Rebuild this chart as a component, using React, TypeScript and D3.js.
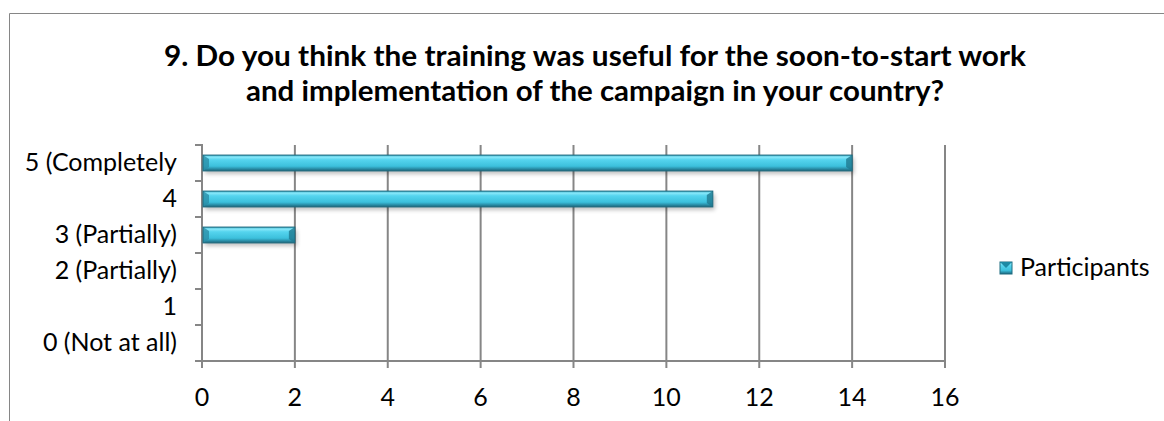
import React from "react";
import * as d3 from "d3";

const categories = ["5 (Completely", "4", "3 (Partially)", "2 (Partially)", "1", "0 (Not at all)"];
const participants = [14, 11, 2, 0, 0, 0];
const xTicks = [0, 2, 4, 6, 8, 10, 12, 14, 16];
const titleLines = [
  "9. Do you think the training was useful for the soon-to-start work",
  "and implementation of the campaign in your country?",
];
const seriesName = "Participants";

const W = 1164;
const H = 421;
const FONT = "Lato, 'Open Sans', sans-serif";

export default function App() {
  const x = d3.scaleLinear().domain([0, 16]).range([202, 945]);
  const y = d3.scaleBand<string>().domain(categories).range([145, 361]).paddingInner(0.56).paddingOuter(0.28);
  const band = d3.scaleBand<string>().domain(categories).range([145, 361]);
  const bh = y.bandwidth();

  return (
    <svg
      width={W}
      height={H}
      style={{ position: "absolute", left: 0, top: 0, background: "#fff" }}
      fontFamily={FONT}
    >
      <defs>
        <linearGradient id="barGrad" x1="0" y1="0" x2="0" y2="1">
          <stop offset="0" stopColor="#2aa3c0" />
          <stop offset="0.12" stopColor="#8ae9fa" />
          <stop offset="0.3" stopColor="#55d4ee" />
          <stop offset="0.7" stopColor="#3cc0dc" />
          <stop offset="0.85" stopColor="#2b93ad" />
          <stop offset="1" stopColor="#1b6378" />
        </linearGradient>
        <filter id="shadow" x="-5%" y="-50%" width="110%" height="250%">
          <feGaussianBlur stdDeviation="2" />
        </filter>
      </defs>
      <path d={`M9.5,${H} V13.5 H${W}`} fill="none" stroke="#868686" strokeWidth={1} />

      {titleLines.map((t, i) => (
        <text
          key={i}
          x={595}
          y={66 + i * 35}
          textAnchor="middle"
          fontSize={28}
          fontWeight="bold"
          fill="#000"
          textLength={i === 0 ? 862 : 698}
          lengthAdjust="spacingAndGlyphs"
        >
          {t}
        </text>
      ))}

      {xTicks.slice(1).map((t) => (
        <line key={t} x1={x(t)} x2={x(t)} y1={145} y2={368} stroke="#868686" strokeWidth={2} />
      ))}
      <line x1={x(0) - 1} x2={x(16)} y1={361} y2={361} stroke="#868686" strokeWidth={2} />
      <line x1={x(0)} x2={x(0)} y1={361} y2={368} stroke="#868686" strokeWidth={2} />
      {xTicks.map((t) => (
        <text key={t} x={x(t)} y={406} textAnchor="middle" fontSize={25} fill="#000">
          {t}
        </text>
      ))}

      <line x1={x(0)} x2={x(0)} y1={144} y2={362} stroke="#868686" strokeWidth={2} />
      {[...categories.map((c) => band(c)!), 361].map((v, i) => (
        <line key={i} x1={195} x2={x(0)} y1={v} y2={v} stroke="#868686" strokeWidth={2} />
      ))}
      {categories.map((c) => (
        <text
          key={c}
          x={177}
          y={band(c)! + band.bandwidth() / 2 + 8}
          textAnchor="end"
          fontSize={25}
          fill="#000"
        >
          {c}
        </text>
      ))}

      {categories.map((c, i) => {
        const v = participants[i];
        if (v <= 0) return null;
        const x0 = x(0) + 1;
        const x1 = x(v);
        const y0 = y(c)!;
        const w = x1 - x0;
        const b = 4;
        return (
          <g key={c}>
            <rect x={x0 + 2} y={y0 + 3} width={w} height={bh} fill="#000" opacity={0.25} filter="url(#shadow)" />
            <rect x={x0} y={y0} width={w} height={bh} fill="url(#barGrad)" />
            <path
              d={`M${x0},${y0} L${x0 + b + 2},${y0 + b} L${x0 + b + 2},${y0 + bh - b} L${x0},${y0 + bh} Z`}
              fill="#2a8ea8"
              opacity={0.8}
            />
            <path
              d={`M${x1},${y0} L${x1 - b - 2},${y0 + b} L${x1 - b - 2},${y0 + bh - b} L${x1},${y0 + bh} Z`}
              fill="#1f7990"
              opacity={0.8}
            />
            <rect x={x0} y={y0} width={w} height={bh} fill="none" stroke="#1f6c80" strokeWidth={1} />
          </g>
        );
      })}

      <rect x={1000} y={262} width={12} height={12} fill="url(#barGrad)" stroke="#1f6c80" strokeWidth={1} />
      <path d="M1000,262 L1006,268 L1012,262 Z" fill="#1c8aa5" />
      <text x={1020} y={276} fontSize={25} fill="#000">
        {seriesName}
      </text>
    </svg>
  );
}
